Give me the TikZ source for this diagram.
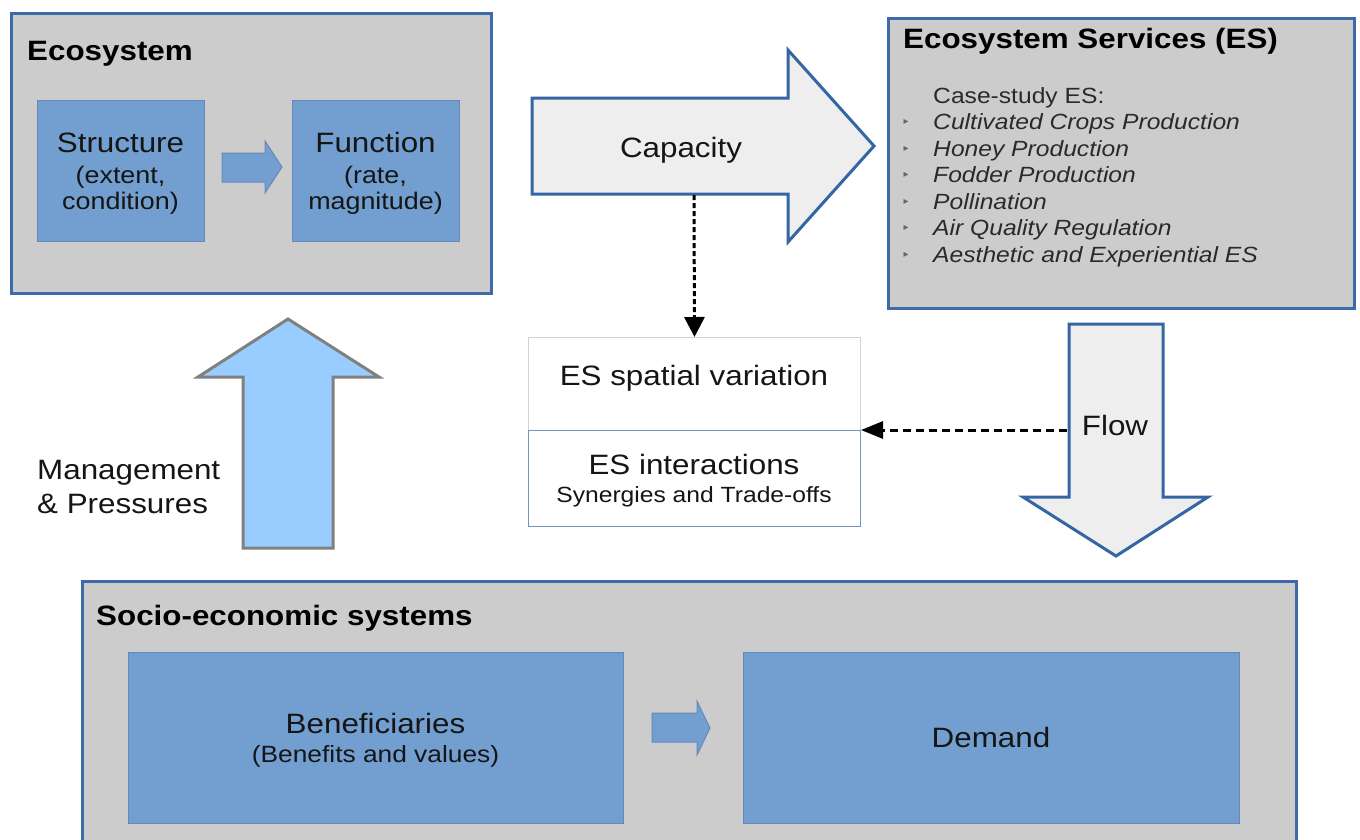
\documentclass[tikz,border=0pt]{standalone}
\usepackage{fontspec}
\setmainfont{Liberation Sans}[FakeStretch=1.12]
\newfontfamily\symfont{DejaVu Sans}
\usetikzlibrary{arrows.meta}
\definecolor{boxgray}{HTML}{CCCCCC}
\definecolor{boxblue}{HTML}{3E6AAA}
\definecolor{innerblue}{HTML}{729FCF}
\definecolor{inneredge}{HTML}{6689BB}
\definecolor{arrowfill}{HTML}{EEEEEE}
\definecolor{arrowedge}{HTML}{3465A4}
\definecolor{mgmtfill}{HTML}{99CCFF}
\definecolor{mgmtedge}{HTML}{808080}
\definecolor{esedge}{HTML}{7393C4}
\definecolor{esvedge}{HTML}{D2D2D2}
\definecolor{txtdark}{HTML}{151515}
\definecolor{listgray}{HTML}{2A2A2A}
\newcommand{\myfs}[1]{\fontsize{#1}{#1}\selectfont}
\begin{document}
\begin{tikzpicture}[x=1pt,y=-1pt,
  outerbox/.style={draw=boxblue, line width=3pt, fill=boxgray, anchor=north west, inner sep=0pt},
  innerbox/.style={draw=inneredge, line width=1pt, fill=innerblue, anchor=north west, inner sep=0pt},
  whitebox/.style={fill=white, line width=1pt, anchor=north west, inner sep=0pt},
  bigarrow/.style={draw=arrowedge, line width=3pt, fill=arrowfill, line join=miter},
  mgmtarrow/.style={draw=mgmtedge, line width=3pt, fill=mgmtfill, line join=miter},
  smallarrow/.style={draw=inneredge, line width=1pt, fill=innerblue},
  txt/.style={inner sep=0pt, anchor=base, text=txtdark},
  txtl/.style={inner sep=0pt, anchor=base west, text=txtdark},
  title/.style={inner sep=0pt, anchor=base west, font=\bfseries\myfs{28}, text=black},
  listitem/.style={inner sep=0pt, anchor=base west, font=\itshape\myfs{22}, text=listgray},
  bul/.style={inner sep=0pt, anchor=base, font=\symfont\myfs{10}, text=gray!80!black},
  dotconn/.style={draw=black, line width=3pt, dash pattern=on 5pt off 3pt, -{Triangle[length=20pt,width=20pt]}},
  dotconnh/.style={draw=black, line width=3pt, dash pattern=on 8pt off 5pt, -{Triangle[length=22pt,width=17pt]}}
]
\useasboundingbox (0,0) rectangle (1360,839);
\clip (0,0) rectangle (1360,839);
\fill[white] (0,0) rectangle (1360,839);

% Ecosystem
\node[outerbox, line width=2.5pt, minimum width=480pt, minimum height=280pt] (eco) at (10,12) {};
\node[title] (ecot) at (27,60) {Ecosystem};
\node[innerbox, minimum width=167pt, minimum height=141pt] (struct) at (37,100) {};
\node[innerbox, minimum width=167pt, minimum height=141pt] (func) at (292,100) {};
\node[txt, font=\myfs{28}] (structa) at (120.5,152) {Structure};
\node[txt, font=\myfs{24}] (structb) at (120.5,183) {(extent,};
\node[txt, font=\myfs{24}] (structc) at (120.5,209) {condition)};
\node[txt, font=\myfs{28}] (funca) at (375.5,152) {Function};
\node[txt, font=\myfs{24}] (funcb) at (375.5,183) {(rate,};
\node[txt, font=\myfs{24}] (funcc) at (375.5,209) {magnitude)};
\draw[smallarrow] (222,153) -- (265,153) -- (265,141) -- (282,167) -- (265,193) -- (265,182) -- (222,182) -- cycle;

% Ecosystem services
\node[outerbox, line width=2.5pt, minimum width=466pt, minimum height=290pt] (es) at (887,17) {};
\node[title] (est) at (903,48) {Ecosystem Services (ES)};
\node[inner sep=0pt, anchor=base west, font=\myfs{22}, text=listgray] (case) at (933,103) {Case-study ES:};
\foreach \y/\t [count=\i] in {129.5/Cultivated Crops Production, 156/Honey Production, 182.5/Fodder Production, 209/Pollination, 235.5/Air Quality Regulation, 262/Aesthetic and Experiential ES}{
  \node[bul] (b\i) at (906,\y-5) {▸};
  \node[listitem] (li\i) at (933,\y) {\t};
}

% Capacity arrow
\draw[bigarrow] (532,98) -- (788,98) -- (788,50) -- (874,146) -- (788,242) -- (788,194) -- (532,194) -- cycle;
\node[txt, font=\myfs{28}] (cap) at (681,157) {Capacity};
\coordinate (capbot) at (694,195);

% ES spatial variation / interactions
\node[whitebox, draw=esvedge, minimum width=332pt, minimum height=93pt] (esv) at (528,337) {};
\node[whitebox, draw=esedge, minimum width=332pt, minimum height=96pt] (esi) at (528,430) {};
\node[txt, font=\myfs{28}] (esvt) at (694,385) {ES spatial variation};
\node[txt, font=\myfs{28}] (esit) at (694,474) {ES interactions};
\node[txt, font=\myfs{22}] (esis) at (694,502) {Synergies and Trade-offs};
\draw[dotconn] (capbot) -- (esv.north);

% Flow arrow
\draw[bigarrow] (1069,324) -- (1163,324) -- (1163,497) -- (1208,497) -- (1116,556) -- (1023,497) -- (1069,497) -- cycle;
\node[txt, font=\myfs{28}] (flow) at (1115,435) {Flow};
\coordinate (flowleft) at (1067,430);
\draw[dotconnh] (flowleft) -- (esi.north east);

% Management arrow
\draw[mgmtarrow] (243,548) -- (243,377) -- (198,377) -- (288,319) -- (379,377) -- (333,377) -- (333,548) -- cycle;
\node[txtl, font=\myfs{28}] (mgmta) at (37,479) {Management};
\node[txtl, font=\myfs{28}] (mgmtb) at (37,513) {\& Pressures};

% Socio-economic systems
\node[outerbox, minimum width=1214pt, minimum height=290pt] (socio) at (81,580) {};
\node[title] (sociot) at (96,625) {Socio-economic systems};
\node[innerbox, minimum width=495pt, minimum height=171pt] (benef) at (128,652) {};
\node[innerbox, minimum width=496pt, minimum height=171pt] (demand) at (743,652) {};
\node[txt, font=\myfs{28}] (benefa) at (375.5,733) {Beneficiaries};
\node[txt, font=\myfs{23.5}] (benefb) at (375.5,762) {(Benefits and values)};
\node[txt, font=\myfs{28}] (demandt) at (991,747) {Demand};
\draw[smallarrow] (652,713) -- (697,713) -- (697,701) -- (710,728) -- (697,755) -- (697,742) -- (652,742) -- cycle;
\end{tikzpicture}
\end{document}
